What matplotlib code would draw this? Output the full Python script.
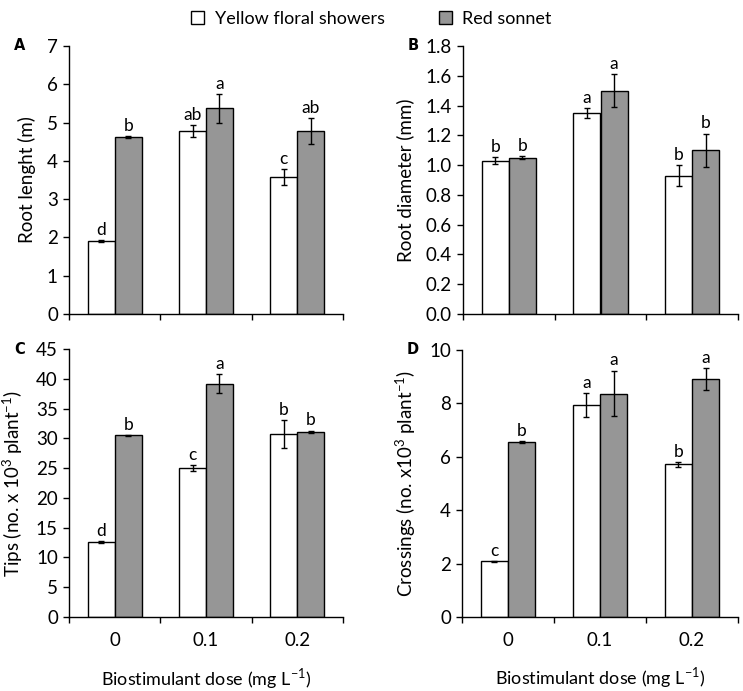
import matplotlib.pyplot as plt
import numpy as np
from matplotlib.patches import Patch

plt.rcParams['font.family'] = ['Lato', 'DejaVu Sans']
plt.rcParams['mathtext.fontset'] = 'custom'
plt.rcParams['mathtext.rm'] = 'Lato'

doses = ["0", "0.1", "0.2"]
series = ["Yellow floral showers", "Red sonnet"]

root_length_yfs = [1.90, 4.78, 3.58]
root_length_rs = [4.62, 5.37, 4.77]
root_length_yfs_err = [0.02, 0.16, 0.21]
root_length_rs_err = [0.03, 0.38, 0.34]
root_length_yfs_let = ["d", "ab", "c"]
root_length_rs_let = ["b", "a", "ab"]

diameter_yfs = [1.03, 1.35, 0.93]
diameter_rs = [1.05, 1.50, 1.10]
diameter_yfs_err = [0.024, 0.034, 0.072]
diameter_rs_err = [0.010, 0.113, 0.112]
diameter_yfs_let = ["b", "a", "b"]
diameter_rs_let = ["b", "a", "b"]

tips_yfs = [12.6, 25.0, 30.7]
tips_rs = [30.5, 39.2, 31.1]
tips_yfs_err = [0.1, 0.56, 2.35]
tips_rs_err = [0.05, 1.6, 0.2]
tips_yfs_let = ["d", "c", "b"]
tips_rs_let = ["b", "a", "b"]

cross_yfs = [2.09, 7.94, 5.72]
cross_rs = [6.56, 8.37, 8.90]
cross_yfs_err = [0.02, 0.45, 0.09]
cross_rs_err = [0.03, 0.86, 0.41]
cross_yfs_let = ["c", "a", "b"]
cross_rs_let = ["b", "a", "a"]

GRAY = "#969696"
W = 0.295


def draw_panel(ax, yfs, rs, yfs_err, rs_err, yfs_let, rs_let, ymax, step, ylabel, tag, fmt, bottom):
    x = np.arange(len(doses))
    ax.bar(x - W / 2, yfs, W, color="white", edgecolor="black", linewidth=1.0, zorder=2)
    ax.bar(x + W / 2, rs, W, color=GRAY, edgecolor="black", linewidth=1.0, zorder=2)
    ax.errorbar(x - W / 2, yfs, yerr=yfs_err, fmt="none", ecolor="black", elinewidth=1.0, capsize=2, capthick=1.0, zorder=3)
    ax.errorbar(x + W / 2, rs, yerr=rs_err, fmt="none", ecolor="black", elinewidth=1.0, capsize=2, capthick=1.0, zorder=3)
    off = ymax * 0.008
    for xi, v, e, t in zip(x - W / 2, yfs, yfs_err, yfs_let):
        ax.text(xi, v + e + off, t, ha="center", va="bottom", fontsize=12.5)
    for xi, v, e, t in zip(x + W / 2, rs, rs_err, rs_let):
        ax.text(xi, v + e + off, t, ha="center", va="bottom", fontsize=12.5)

    ax.set_xlim(-0.5, 2.5)
    ax.set_ylim(0, ymax)
    ticks = np.arange(0, ymax + step / 2, step)
    ax.set_yticks(ticks)
    ax.set_yticklabels([fmt.format(v) for v in ticks])
    ax.set_xticks(x)
    ax.set_xticks([-0.5, 0.5, 1.5, 2.5], minor=True)
    ax.tick_params(axis="x", which="major", length=0, pad=11, labelsize=13.5)
    ax.tick_params(axis="x", which="minor", length=4, width=1.0, direction="out")
    ax.tick_params(axis="y", length=4, width=1.0, direction="out", labelsize=13.5, pad=4)
    if bottom:
        ax.set_xticklabels(doses)
        lab = ax.set_xlabel("Biostimulant dose (mg L$^{-1}$)", fontsize=13)
        lab.set_va("center")
        ax.xaxis.set_label_coords(0.5, -0.228)
    else:
        ax.set_xticklabels([])
    for s in ["top", "right"]:
        ax.spines[s].set_visible(False)
    for s in ["left", "bottom"]:
        ax.spines[s].set_linewidth(1.0)
    ax.set_ylabel(ylabel, fontsize=13.5, labelpad=8)
    ax.text(-0.2, 1.0, tag, transform=ax.transAxes, fontsize=10.5, fontweight="bold", ha="left", va="center",
            family="DejaVu Sans")


fig = plt.figure(figsize=(7.43, 6.91), dpi=100)
ax_a = fig.add_axes([69 / 743, 1 - 314 / 691, 274 / 743, 268 / 691])
ax_b = fig.add_axes([463 / 743, 1 - 314 / 691, 275 / 743, 268 / 691])
ax_c = fig.add_axes([69 / 743, 1 - 617 / 691, 274 / 743, 268 / 691])
ax_d = fig.add_axes([462 / 743, 1 - 617 / 691, 276 / 743, 267 / 691])

draw_panel(ax_a, root_length_yfs, root_length_rs, root_length_yfs_err, root_length_rs_err,
           root_length_yfs_let, root_length_rs_let, 7, 1, "Root lenght (m)", "A", "{:.0f}", False)
draw_panel(ax_b, diameter_yfs, diameter_rs, diameter_yfs_err, diameter_rs_err,
           diameter_yfs_let, diameter_rs_let, 1.8, 0.2, "Root diameter (mm)", "B", "{:.1f}", False)
draw_panel(ax_c, tips_yfs, tips_rs, tips_yfs_err, tips_rs_err,
           tips_yfs_let, tips_rs_let, 45, 5, "Tips (no. x 10$^3$ plant$^{-1}$)", "C", "{:.0f}", True)
draw_panel(ax_d, cross_yfs, cross_rs, cross_yfs_err, cross_rs_err,
           cross_yfs_let, cross_rs_let, 10, 2, "Crossings (no. x10$^3$ plant$^{-1}$)", "D", "{:.0f}", True)

handles = [Patch(facecolor="white", edgecolor="black", linewidth=1.0),
           Patch(facecolor=GRAY, edgecolor="black", linewidth=1.0)]
fig.legend(handles, series, loc="upper center", bbox_to_anchor=(0.5, 1.008), ncol=2, frameon=False,
           fontsize=13, handlelength=0.7, handleheight=0.7, handletextpad=0.6, columnspacing=3.0)

fig.savefig("out.png", dpi=100)
